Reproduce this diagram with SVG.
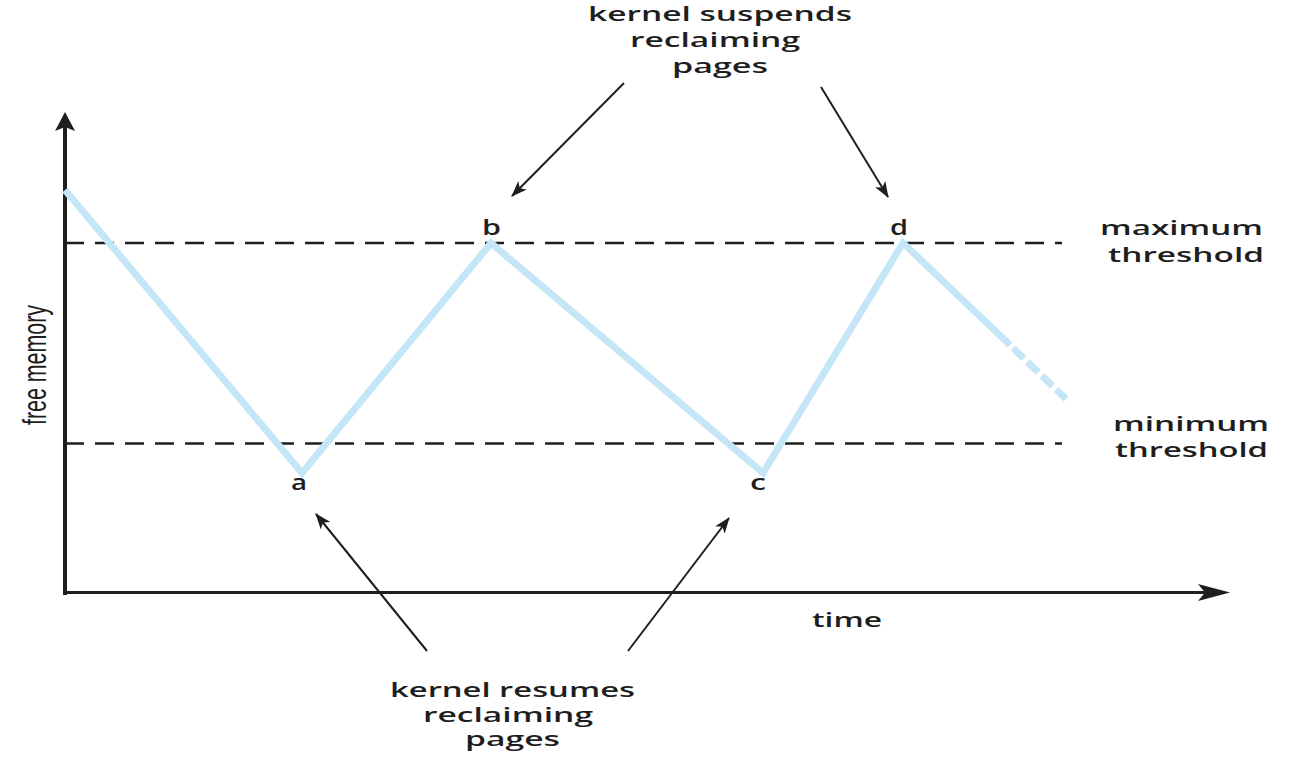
<svg xmlns="http://www.w3.org/2000/svg" width="1310" height="781" viewBox="0 0 1310 781">
<style>
text{font-family:"Open Sans","Liberation Sans",sans-serif;fill:#1e1e1e;font-weight:600;font-size:20px}
text.lbl{font-size:22px}
text.ylab{font-family:"Liberation Sans","Open Sans",sans-serif;font-size:33px;font-weight:400}
.ax{stroke:#1e1e1e;fill:none}
.thr{stroke:#1e1e1e;stroke-width:2.5;stroke-dasharray:19 11;fill:none}
.mem{stroke:#c4e6f7;stroke-width:7;fill:none;stroke-linejoin:miter;stroke-miterlimit:10}
.ptr{stroke:#1e1e1e;stroke-width:2;fill:none;marker-end:url(#ah)}
</style>
<defs>
<marker id="ah" viewBox="0 0 16 12" refX="15" refY="6" markerWidth="16" markerHeight="12" markerUnits="userSpaceOnUse" orient="auto">
<path d="M0,0 L16,6 L0,12 L4,6 Z" fill="#1e1e1e"/>
</marker>
</defs>
<rect width="1310" height="781" fill="#ffffff"/>
<g id="axes">
<line class="ax" x1="65" y1="595" x2="65" y2="126" stroke-width="4"/>
<path d="M65,112 L75,131 L65,127 L55,131 Z" fill="#1e1e1e"/>
<line class="ax" x1="63" y1="592.5" x2="1206" y2="592.5" stroke-width="3"/>
<path d="M1230,592.5 L1198,584 L1205,592.5 L1198,601 Z" fill="#1e1e1e"/>
<text class="ylab" transform="translate(46,425) rotate(-90)" textLength="120" lengthAdjust="spacingAndGlyphs">free memory</text>
<text x="812" y="627" textLength="70" lengthAdjust="spacingAndGlyphs">time</text>
</g>
<g id="thresholds">
<line class="thr" x1="65" y1="243" x2="1062" y2="243"/>
<line class="thr" x1="65" y1="443.5" x2="1062" y2="443.5"/>
<text x="1100" y="235" textLength="163" lengthAdjust="spacingAndGlyphs">maximum</text>
<text x="1108" y="262" textLength="156" lengthAdjust="spacingAndGlyphs">threshold</text>
<text x="1113" y="431" textLength="156" lengthAdjust="spacingAndGlyphs">minimum</text>
<text x="1115" y="457" textLength="153" lengthAdjust="spacingAndGlyphs">threshold</text>
</g>
<g id="memory-curve">
<polyline class="mem" points="65,190 302,473 491,243 763,473 903,243 1010,345"/>
<path class="mem" d="M1013,348 L1066,399" stroke-dasharray="15 5"/>
</g>
<g id="point-a"><text class="lbl" x="291" y="490" textLength="16" lengthAdjust="spacingAndGlyphs">a</text></g>
<g id="point-b"><text class="lbl" x="482" y="235" textLength="19" lengthAdjust="spacingAndGlyphs">b</text></g>
<g id="point-c"><text class="lbl" x="750" y="490" textLength="16" lengthAdjust="spacingAndGlyphs">c</text></g>
<g id="point-d"><text class="lbl" x="890" y="235" textLength="18" lengthAdjust="spacingAndGlyphs">d</text></g>
<g id="suspend-label">
<text x="588" y="21" textLength="264" lengthAdjust="spacingAndGlyphs">kernel suspends</text>
<text x="630" y="47" textLength="170" lengthAdjust="spacingAndGlyphs">reclaiming</text>
<text x="672" y="73" textLength="96" lengthAdjust="spacingAndGlyphs">pages</text>
</g>
<g id="resume-label">
<text x="390" y="697" textLength="245" lengthAdjust="spacingAndGlyphs">kernel resumes</text>
<text x="423" y="722" textLength="170" lengthAdjust="spacingAndGlyphs">reclaiming</text>
<text x="465" y="746" textLength="95" lengthAdjust="spacingAndGlyphs">pages</text>
</g>
<g id="connectors">
<line class="ptr" x1="624" y1="83" x2="512" y2="196"/>
<line class="ptr" x1="821" y1="87" x2="888" y2="197"/>
<line class="ptr" x1="427" y1="651" x2="316" y2="514"/>
<line class="ptr" x1="628" y1="651" x2="729" y2="518"/>
</g>
</svg>
